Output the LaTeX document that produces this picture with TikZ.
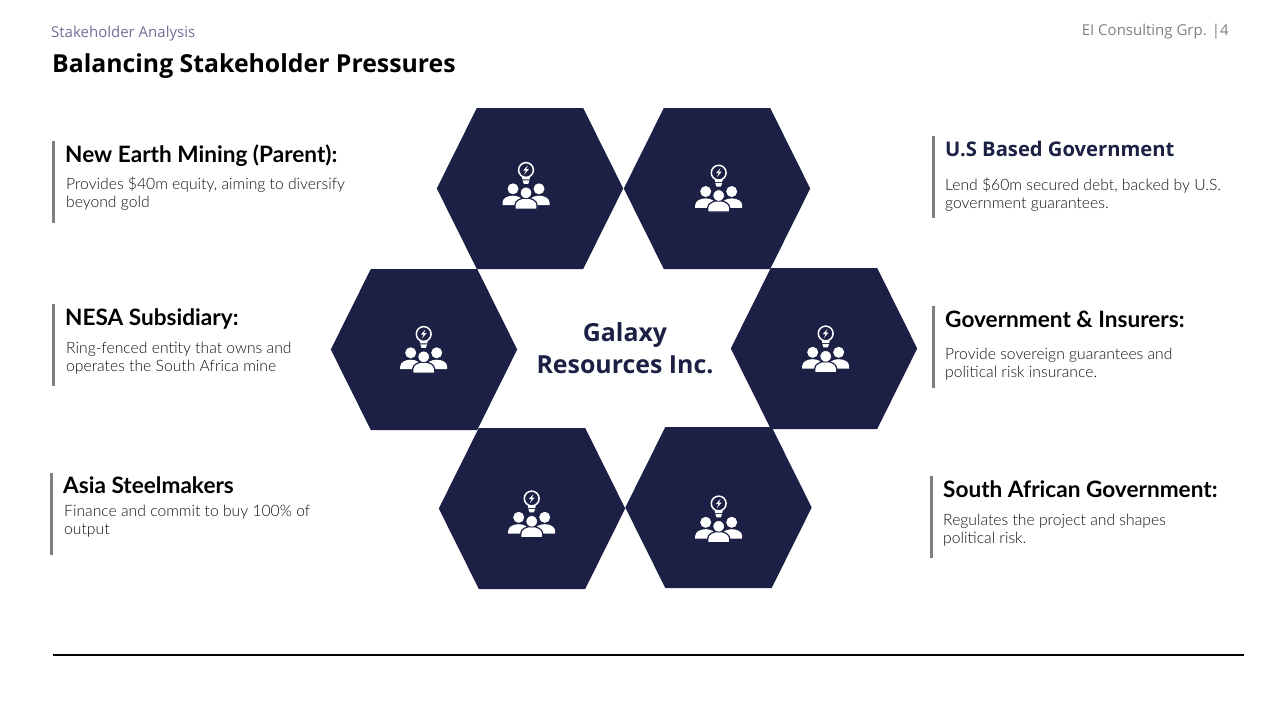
\documentclass[tikz,border=0pt]{standalone}
\usepackage{fontspec}
\setmainfont{Lato}
\newfontfamily\titlefont{Open Sans}
\newfontfamily\lightfont{Lato Light}
\definecolor{navy}{HTML}{1B2044}
\definecolor{barcolor}{HTML}{7F7F7F}
\definecolor{subcolor}{HTML}{6F7099}
\definecolor{bodycolor}{HTML}{111111}
\tikzset{
  headnode/.style={anchor=base west,inner sep=0pt,font=\fontsize{22.6}{27}\selectfont\bfseries,text=black},
  bodynode/.style={anchor=base west,inner sep=0pt,align=left,font=\lightfont\fontsize{15.7}{18}\selectfont,text=bodycolor},
  barline/.style={draw=barcolor,line width=3pt},
  hexshape/.pic={
    \fill[navy] (-93.2,0) -- (-53.2,-80.5) -- (53.2,-80.5) -- (93.2,0) -- (53.2,80.5) -- (-53.2,80.5) -- cycle;
  },
  stakeicon/.pic={
    \fill[white] (-13,-0.7) circle (5.5) (13,-0.7) circle (5.5);
    \fill[white] (-23.5,15.7) -- (-23.5,13) .. controls (-23.5,8.5) and (-18,6.2) .. (-13,6.2) .. controls (-8,6.2) and (-3,8.5) .. (-3,13) -- (-3,15.7) -- cycle;
    \fill[white] (23.5,15.7) -- (23.5,13) .. controls (23.5,8.5) and (18,6.2) .. (13,6.2) .. controls (8,6.2) and (3,8.5) .. (3,13) -- (3,15.7) -- cycle;
    \filldraw[white,draw=navy,line width=1.2pt] (-11,19.8) -- (-11,15.5) .. controls (-11,11) and (-5,8.4) .. (0,8.4) .. controls (5,8.4) and (11,11) .. (11,15.5) -- (11,19.8) -- cycle;
    \filldraw[white,draw=navy,line width=0.8pt] (0,3.3) circle (5.8);
    \draw[white,line width=1.5pt] (0,-19.5) circle (7.4);
    \fill[white] (-4,-12.3) -- (4,-12.3) -- (3.6,-10.2) -- (-3.6,-10.2) -- cycle;
    \fill[white] (-3.4,-9.2) -- (3.4,-9.2) -- (2.2,-5.6) -- (-2.2,-5.6) -- cycle;
    \fill[white] (1.7,-24) -- (-2.7,-19) -- (0,-19) -- (-2,-14.8) -- (3,-20.5) -- (0.3,-20.5) -- cycle;
  }
}
\begin{document}
\begin{tikzpicture}[x=1pt,y=-1pt]
  \useasboundingbox (0,0) rectangle (1280,720);
  \node (subtitle) [anchor=base west,inner sep=0pt,text=subcolor,font=\titlefont\fontsize{15}{18}\selectfont] at (51,37) {Stakeholder Analysis};
  \node (title) [anchor=base west,inner sep=0pt,font=\titlefont\fontsize{24.8}{30}\selectfont\bfseries] at (52,72) {Balancing Stakeholder Pressures};
  \node (pagemark) [anchor=base east,inner sep=0pt,text=barcolor,font=\titlefont\fontsize{15}{18}\selectfont] at (1229,35) {EI Consulting Grp. |4};

  % hexagons with their icons
  \foreach \hexname/\x/\y/\iconx/\icony in {hexa/530/188.5/526/189.5,hexb/717/188.5/718.7/192.2,hexc/424/349.5/423.7/353.5,hexd/824/348.5/825.7/353,hexe/532/508.5/531.7/518,hexf/718.5/507.5/718.7/523} {
    \coordinate (\hexname) at (\x,\y);
    \pic at (\hexname) {hexshape};
    \pic at (\iconx,\icony) {stakeicon};
  }
  \node (center) [align=center,text=navy,font=\titlefont\fontsize{24.9}{32}\selectfont\bfseries] at (625,348) {Galaxy\\Resources Inc.};

  % left column
  \draw[barline] (53,141) -- (53,223);
  \node (nem) [headnode] at (65,162.7) {New Earth Mining (Parent):};
  \node (nemtext) [bodynode] at (66,207) {Provides \$40m equity, aiming to diversify\\beyond gold};
  \draw[barline] (53,304) -- (53,386);
  \node (nesa) [headnode] at (65,325.7) {NESA Subsidiary:};
  \node (nesatext) [bodynode] at (66,371) {Ring-fenced entity that owns and\\operates the South Africa mine};
  \draw[barline] (51,473) -- (51,555);
  \node (asia) [headnode] at (63,493.7) {Asia Steelmakers};
  \node (asiatext) [bodynode] at (64,534) {Finance and commit to buy 100\% of\\output};

  % right column
  \draw[barline] (933,136) -- (933,218);
  \node (usgov) [headnode,text=navy,font=\titlefont\fontsize{20.2}{24}\selectfont\bfseries] at (945,156) {U.S Based Government};
  \node (usgovtext) [bodynode] at (945,208) {Lend \$60m secured debt, backed by U.S.\\government guarantees.};
  \draw[barline] (933,306) -- (933,388);
  \node (insurers) [headnode] at (945,327.7) {Government \& Insurers:};
  \node (insurerstext) [bodynode] at (945,377) {Provide sovereign guarantees and\\political risk insurance.};
  \draw[barline] (931,476) -- (931,558);
  \node (sagov) [headnode] at (943,497.7) {South African Government:};
  \node (sagovtext) [bodynode] at (943,543) {Regulates the project and shapes\\political risk.};

  \draw[line width=2pt] (53,655) -- (1244,655);
\end{tikzpicture}
\end{document}
